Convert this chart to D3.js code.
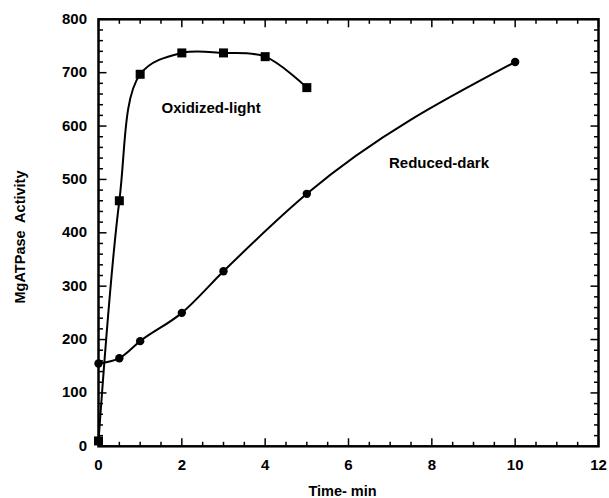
<!DOCTYPE html>
<html><head><meta charset="utf-8">
<script src="https://cdn.jsdelivr.net/npm/d3@7"></script>
<style>body{margin:0;background:#fff}svg{display:block}</style>
</head><body>
<script>
const oxTime = [0, 0.5, 1, 2, 3, 4, 5];
const oxActivity = [10, 460, 697, 737, 737, 730, 672];
const redTime = [0, 0.5, 1, 2, 3, 5, 10];
const redActivity = [155, 165, 197, 250, 328, 473, 720];
const xTicks = [0, 2, 4, 6, 8, 10, 12];
const yTicks = [0, 100, 200, 300, 400, 500, 600, 700, 800];

const W = 609, H = 498;
const svg = d3.select("body").append("svg").attr("width", W).attr("height", H);
const x = d3.scaleLinear().domain([0, 12]).range([98.5, 598.5]);
const y = d3.scaleLinear().domain([0, 800]).range([446.3, 19.3]);
const font = "Liberation Sans, Arial, Helvetica, sans-serif";

const g = svg.append("g");
const xMinor = d3.range(0, 12.01, 0.5);
const yMinor = d3.range(0, 800.1, 20);
xMinor.forEach(v => {
  const major = Math.abs(v % 2) < 1e-6;
  const len = major ? 8 : 4.5;
  g.append("line").attr("x1", x(v)).attr("x2", x(v)).attr("y1", y(0)).attr("y2", y(0) - len).attr("stroke", "#000").attr("stroke-width", 1.5);
  g.append("line").attr("x1", x(v)).attr("x2", x(v)).attr("y1", y(800)).attr("y2", y(800) + len).attr("stroke", "#000").attr("stroke-width", 1.5);
});
yMinor.forEach(v => {
  const major = Math.abs(v % 100) < 1e-6;
  const len = major ? 8 : 4.5;
  g.append("line").attr("x1", x(0)).attr("x2", x(0) + len).attr("y1", y(v)).attr("y2", y(v)).attr("stroke", "#000").attr("stroke-width", 1.5);
  g.append("line").attr("x1", x(12)).attr("x2", x(12) - len).attr("y1", y(v)).attr("y2", y(v)).attr("stroke", "#000").attr("stroke-width", 1.5);
});
g.append("rect").attr("x", x(0)).attr("y", y(800)).attr("width", x(12) - x(0)).attr("height", y(0) - y(800))
  .attr("fill", "none").attr("stroke", "#000").attr("stroke-width", 2.5);

// tick labels
svg.append("g").selectAll("text").data(xTicks).join("text")
  .attr("x", d => x(d)).attr("y", 469.5).attr("text-anchor", "middle")
  .attr("font-family", font).attr("font-weight", "bold").attr("font-size", 15).text(d => d);
svg.append("g").selectAll("text").data(yTicks).join("text")
  .attr("x", 87).attr("y", d => y(d) + 4.5).attr("text-anchor", "end")
  .attr("font-family", font).attr("font-weight", "bold").attr("font-size", 15).text(d => d);

// axis titles
svg.append("text").attr("x", 342.5).attr("y", 496).attr("text-anchor", "middle")
  .attr("font-family", font).attr("font-weight", "bold").attr("font-size", 14.5).text("Time- min");
svg.append("text").attr("transform", "translate(25,237) rotate(-90)").attr("text-anchor", "middle")
  .attr("font-family", font).attr("font-weight", "bold").attr("font-size", 14.5)
  .style("white-space", "pre").text("MgATPase  Activity");

// curves
const ox = oxTime.map((t, i) => [t, oxActivity[i]]);
const red = redTime.map((t, i) => [t, redActivity[i]]);
const lineOx = d3.line().x(d => x(d[0])).y(d => y(d[1])).curve(d3.curveCatmullRom.alpha(0.5));
const lineRed = d3.line().x(d => x(d[0])).y(d => y(d[1])).curve(d3.curveMonotoneX);
svg.append("path").attr("d", lineOx(ox)).attr("fill", "none").attr("stroke", "#000").attr("stroke-width", 2);
svg.append("path").attr("d", lineRed(red)).attr("fill", "none").attr("stroke", "#000").attr("stroke-width", 2);

svg.append("g").selectAll("rect").data(ox).join("rect")
  .attr("x", d => x(d[0]) - 4.5).attr("y", d => y(d[1]) - 4.5).attr("width", 9).attr("height", 9).attr("fill", "#000");
svg.append("g").selectAll("circle").data(red).join("circle")
  .attr("cx", d => x(d[0])).attr("cy", d => y(d[1])).attr("r", 4.2).attr("fill", "#000");

// labels
svg.append("text").attr("x", 161.5).attr("y", 113.3).attr("font-family", font).attr("font-weight", "bold").attr("font-size", 15).text("Oxidized-light");
svg.append("text").attr("x", 389).attr("y", 168).attr("font-family", font).attr("font-weight", "bold").attr("font-size", 15).text("Reduced-dark");
</script>
</body></html>
